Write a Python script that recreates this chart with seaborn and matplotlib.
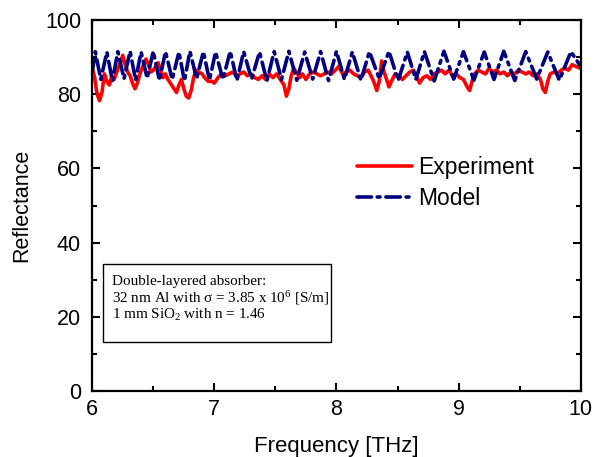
import matplotlib
matplotlib.use("Agg")
import matplotlib.pyplot as plt
from matplotlib.patches import Rectangle
from matplotlib.ticker import MultipleLocator
import seaborn as sns

# 实验数据 (Experiment): 频率 THz, 反射率 %
exp_freq = [6.00, 6.02, 6.04, 6.06, 6.08, 6.10, 6.12, 6.14, 6.16, 6.18, 6.20, 6.23,
            6.25, 6.27, 6.29, 6.31, 6.33, 6.35, 6.37, 6.39, 6.42, 6.44, 6.46, 6.48,
            6.50, 6.52, 6.54, 6.56, 6.58, 6.60, 6.62, 6.64, 6.66, 6.69, 6.71, 6.73,
            6.75, 6.77, 6.79, 6.81, 6.83, 6.85, 6.87, 6.90, 6.92, 6.95, 6.98, 7.00,
            7.03, 7.06, 7.09, 7.12, 7.15, 7.18, 7.21, 7.24, 7.27, 7.30, 7.33, 7.36,
            7.39, 7.42, 7.45, 7.48, 7.51, 7.54, 7.57, 7.59, 7.61, 7.63, 7.65, 7.67,
            7.70, 7.72, 7.75, 7.78, 7.81, 7.84, 7.87, 7.90, 7.93, 7.96, 7.99, 8.02,
            8.05, 8.08, 8.11, 8.14, 8.17, 8.20, 8.23, 8.26, 8.29, 8.31, 8.33, 8.35,
            8.37, 8.39, 8.41, 8.43, 8.45, 8.48, 8.51, 8.54, 8.57, 8.60, 8.63, 8.66,
            8.68, 8.71, 8.74, 8.77, 8.80, 8.83, 8.86, 8.89, 8.92, 8.95, 8.98, 9.01,
            9.04, 9.07, 9.09, 9.11, 9.13, 9.16, 9.19, 9.22, 9.25, 9.28, 9.31, 9.34,
            9.37, 9.40, 9.43, 9.46, 9.49, 9.52, 9.55, 9.58, 9.61, 9.64, 9.67, 9.69,
            9.71, 9.73, 9.75, 9.78, 9.81, 9.84, 9.87, 9.90, 9.93, 9.96, 10.00]
exp_refl = [87.0, 84.5, 80.0, 78.3, 80.5, 85.5, 83.5, 82.5, 85.0, 84.0, 86.0, 88.5,
            90.5, 88.0, 86.0, 85.0, 83.0, 81.5, 83.0, 85.5, 88.0, 89.5, 88.0, 86.0,
            86.5, 87.5, 88.5, 86.5, 84.5, 85.5, 84.0, 83.0, 82.0, 80.5, 82.5, 84.0,
            81.5, 79.5, 79.0, 81.0, 84.5, 86.5, 86.0, 85.5, 84.5, 83.5, 83.5, 83.0,
            84.5, 85.5, 85.0, 85.5, 86.0, 85.0, 85.5, 86.0, 85.0, 85.5, 84.5, 84.0,
            85.0, 84.0, 85.5, 84.5, 85.5, 84.0, 82.5, 79.5, 81.5, 85.0, 87.0, 86.0,
            84.5, 85.5, 84.0, 85.5, 86.0, 85.5, 85.0, 85.5, 86.0, 85.5, 86.5, 87.5,
            85.5, 86.0, 86.5, 85.5, 85.0, 84.5, 86.0, 86.5, 84.5, 83.0, 81.0, 83.5,
            89.0, 86.0, 84.0, 82.0, 83.5, 85.5, 85.0, 84.0, 85.0, 86.0, 86.5, 84.5,
            83.0, 84.5, 85.0, 84.0, 85.5, 86.0, 86.5, 85.5, 86.5, 85.0, 85.5, 84.5,
            84.0, 82.0, 81.0, 83.5, 85.5, 86.5, 86.0, 85.5, 87.0, 86.0, 86.5, 85.5,
            86.0, 85.0, 86.0, 85.5, 86.5, 86.0, 85.5, 86.0, 85.0, 85.5, 84.0, 81.5,
            80.5, 83.5, 85.5, 86.0, 85.5, 86.5, 87.0, 86.5, 88.0, 87.5, 87.0]

# 模型数据 (Model): 峰谷交替
model_freq = [6.00, 6.025, 6.07, 6.12, 6.165, 6.21, 6.26, 6.31, 6.355, 6.40, 6.45,
              6.50, 6.55, 6.60, 6.655, 6.71, 6.755, 6.80, 6.855, 6.91, 6.96, 7.01,
              7.07, 7.13, 7.185, 7.24, 7.305, 7.37, 7.43, 7.49, 7.55, 7.61, 7.675,
              7.74, 7.805, 7.87, 7.935, 8.00, 8.065, 8.13, 8.20, 8.27, 8.35, 8.43,
              8.505, 8.58, 8.65, 8.72, 8.80, 8.88, 8.96, 9.04, 9.125, 9.21, 9.29,
              9.37, 9.46, 9.55, 9.64, 9.73, 9.825, 9.92, 10.00]
model_refl = [86.0, 91.5, 84.0, 91.4, 83.6, 91.5, 84.2, 91.6, 83.8, 91.4, 84.3,
              91.6, 83.7, 91.5, 84.0, 91.4, 83.6, 91.6, 84.2, 91.5, 83.8, 91.4,
              84.0, 91.6, 83.7, 91.5, 84.1, 91.4, 83.6, 91.5, 84.0, 91.6, 83.8,
              91.4, 84.1, 91.5, 83.7, 91.6, 84.0, 91.4, 83.8, 91.5, 84.2, 91.6,
              83.7, 91.4, 84.0, 91.5, 83.6, 91.6, 84.1, 91.5, 83.8, 91.4, 84.0,
              91.6, 83.7, 91.5, 84.1, 91.4, 83.8, 91.5, 87.5]

sns.set_style("ticks")
plt.rcParams['font.family'] = ['Liberation Sans', 'DejaVu Sans']
plt.rcParams['mathtext.fontset'] = 'custom'
plt.rcParams['mathtext.rm'] = 'Liberation Serif'
plt.rcParams['mathtext.it'] = 'Liberation Serif:italic'
plt.rcParams['text.color'] = 'black'
plt.rcParams['axes.labelcolor'] = 'black'
plt.rcParams['xtick.color'] = 'black'
plt.rcParams['ytick.color'] = 'black'

fig = plt.figure(figsize=(5.95, 4.57), dpi=100)
ax = fig.add_axes([0.155, 0.1444, 0.821, 0.8116])

sns.lineplot(x=exp_freq, y=exp_refl, ax=ax, color='#FF0000', lw=2.6,
             estimator=None, sort=False, label='Experiment')
sns.lineplot(x=model_freq, y=model_refl, ax=ax, color='#000080', lw=2.6,
             estimator=None, sort=False, label='Model')
ax.lines[1].set_dashes((4, 1.6, 0.8, 1.6))
ax.lines[1].set_dash_capstyle('round')

ax.set_xlim(6, 10)
ax.set_ylim(0, 100)
ax.xaxis.set_major_locator(MultipleLocator(1))
ax.xaxis.set_minor_locator(MultipleLocator(0.5))
ax.yaxis.set_major_locator(MultipleLocator(20))
ax.yaxis.set_minor_locator(MultipleLocator(10))
ax.tick_params(which='both', direction='in', top=True, right=True,
               width=1.5, labelsize=15.5)
ax.tick_params(axis='y', pad=8)
ax.tick_params(axis='x', pad=6)
ax.tick_params(which='major', length=6)
ax.tick_params(which='minor', length=3.5)
for sp in ax.spines.values():
    sp.set_linewidth(1.6)
    sp.set_color('black')

ax.set_xlabel('Frequency [THz]', fontsize=16, labelpad=11)
ax.set_ylabel('Reflectance', fontsize=15.5, labelpad=9)

ax.legend(loc='center left', bbox_to_anchor=(0.542, 0.562), frameon=False,
          fontsize=16.5, handlelength=2.4, handletextpad=0.28,
          labelspacing=0.35, borderpad=0, borderaxespad=0)

# 文本框
ax.add_patch(Rectangle((0.0225, 0.132), 0.466, 0.21, transform=ax.transAxes,
                       fill=False, edgecolor='black', lw=1.0))
box_lines = ['Double-layered absorber:',
             r'32 nm Al with σ = 3.85 x 10$^{6}$ [S/m]',
             r'1 mm SiO$_{2}$ with n = 1.46']
for txt, yy in zip(box_lines, [0.294, 0.250, 0.204]):
    ax.text(0.041, yy, txt, transform=ax.transAxes, va='center', ha='left',
            fontsize=10.9, family=['Liberation Serif', 'DejaVu Serif'])

fig.savefig('out.png', dpi=100)
